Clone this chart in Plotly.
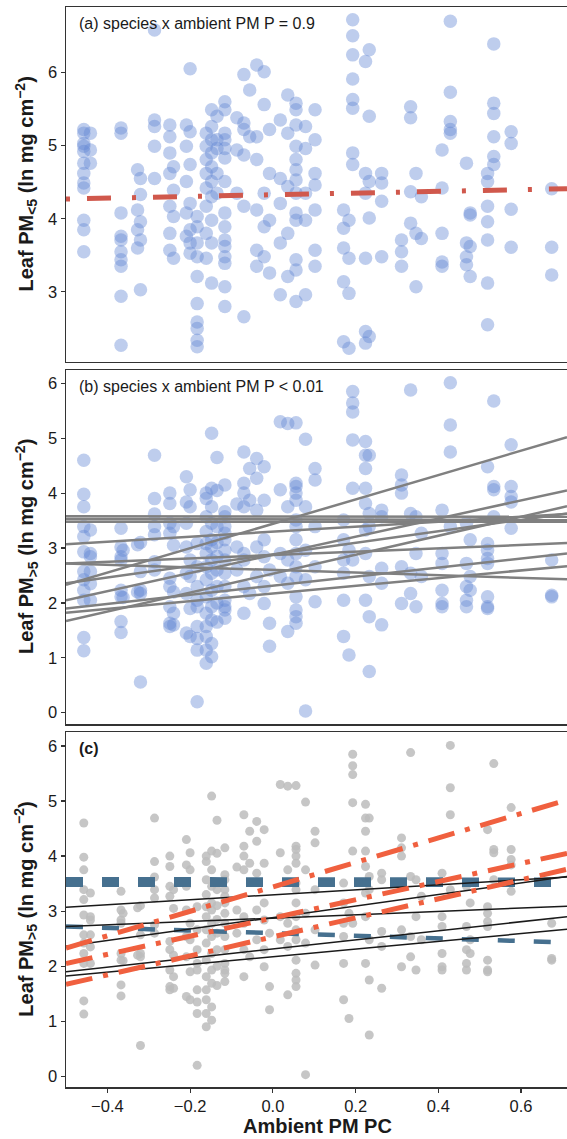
import plotly.graph_objects as go

# ---------------- data ----------------
# x limits of the model prediction lines (ambient PM PC)
x_limits = [-0.5, 0.711]

# Panel (a): Leaf PM<5
lt5_x = ([-0.457]*12 + [-0.441]*3 + [-0.367]*10 + [-0.327]*4 + [-0.320]*5 + [-0.286]*5 +
         [-0.249]*7 + [-0.240]*4 + [-0.209]*5 + [-0.200]*7 + [-0.183]*10 +
         [-0.161]*8 + [-0.148]*10 + [-0.135]*5 + [-0.116]*15 +
         [-0.087]*3 + [-0.070]*6 + [-0.056]*2 + [-0.039]*6 + [-0.021]*5 + [-0.008]*4 +
         [0.018]*5 + [0.036]*5 + [0.056]*13 + [0.079]*5 + [0.102]*7 +
         [0.171]*5 + [0.184]*4 + [0.193]*8 + [0.224]*6 + [0.233]*5 + [0.263]*4 + [0.311]*3 +
         [0.333]*4 + [0.346]*3 + [0.359]*2 + [0.409]*5 + [0.429]*5 + [0.468]*4 + [0.477]*4 +
         [0.519]*7 + [0.534]*6 + [0.576]*4 + [0.674]*3)
lt5_y = [5.22, 5.17, 5.03, 4.99, 4.92, 4.76, 4.62, 4.49, 4.42, 3.98, 3.85, 3.55,
         5.17, 4.94, 4.76,
         5.24, 5.17, 4.08, 3.76, 3.71, 3.55, 3.44, 3.35, 2.94, 2.27,
         4.67, 4.12, 3.85, 3.60,
         4.55, 4.33, 3.96, 3.71, 3.03,
         6.58, 5.35, 5.26, 4.99, 4.55,
         5.28, 5.12, 4.90, 4.62, 4.17, 3.80, 3.57,
         4.71, 4.39, 4.03, 3.46,
         5.28, 4.99, 4.51, 4.08, 3.76,
         6.05, 5.19, 4.74, 4.21, 3.85, 3.67, 3.53,
         4.03, 3.89, 3.67, 3.48, 3.21, 2.84, 2.59, 2.50, 2.34, 2.25,
         5.17, 4.99, 4.81, 4.62, 4.42, 4.17, 3.80, 3.46,
         5.49, 5.26, 5.08, 4.90, 4.71, 4.51, 4.30, 3.98, 3.67, 3.12,
         5.40, 5.08, 4.96, 4.62, 4.35,
         5.60, 5.49, 5.17, 5.08, 4.96, 4.83, 4.51, 4.08, 3.89, 3.71, 3.62, 3.48, 3.39, 3.07, 2.80,
         5.38, 4.94, 4.35,
         5.97, 5.31, 5.22, 4.87, 4.17, 2.66,
         5.76, 5.12,
         6.10, 5.12, 4.81, 4.12, 3.57, 3.35,
         6.01, 5.56, 4.35, 3.89, 3.48,
         5.22, 4.62, 3.98, 3.26,
         5.35, 4.55, 4.21, 3.67, 2.96,
         5.69, 5.17, 4.44, 3.80, 3.21,
         5.58, 5.49, 5.28, 4.99, 4.81, 4.67, 4.53, 4.35, 4.08, 3.98, 3.44, 3.30, 2.87,
         5.26, 4.96, 4.35, 3.98, 2.96,
         5.49, 5.08, 4.62, 4.46, 4.12, 3.57, 3.35,
         4.12, 3.87, 3.60, 3.14, 2.32,
         3.98, 3.46, 2.98, 2.23,
         6.72, 6.50, 6.24, 5.91, 5.63, 5.51, 4.90, 4.74,
         6.15, 4.62, 4.35, 3.46, 2.46, 2.30,
         6.31, 5.40, 4.51, 4.01, 2.39,
         4.62, 4.49, 4.24, 3.48,
         3.71, 3.55, 3.35,
         5.53, 5.38, 4.37, 3.94,
         4.62, 3.80, 3.07,
         4.30, 3.73,
         4.94, 4.42, 3.80, 3.41, 3.35,
         6.70, 5.73, 5.33, 5.22, 5.17,
         4.76, 3.67, 3.48, 3.37,
         4.08, 4.05, 3.62, 3.21,
         4.62, 4.51, 4.17, 3.96, 3.71, 3.12, 2.55,
         6.39, 5.58, 5.44, 5.12, 4.85, 4.74,
         5.19, 5.03, 4.13, 3.61,
         4.41, 3.61, 3.23]

# Panel (a) overall fit (no interaction): value at x_limits
lt5_fit = [4.27, 4.41]

# Panels (b) and (c): Leaf PM>5
gt5_x = ([-0.457]*12 + [-0.441]*6 + [-0.367]*8 + [-0.362]*2 + [-0.320]*5 + [-0.327]*2 +
         [-0.286]*7 + [-0.249]*9 + [-0.240]*5 + [-0.209]*7 + [-0.200]*6 + [-0.183]*9 +
         [-0.161]*14 + [-0.148]*13 + [-0.135]*9 + [-0.116]*14 +
         [-0.087]*3 + [-0.070]*8 + [-0.056]*3 + [-0.039]*5 + [-0.021]*6 + [-0.008]*3 +
         [0.018]*4 + [0.036]*5 + [0.056]*15 + [0.079]*5 + [0.102]*5 +
         [0.171]*6 + [0.184]*2 + [0.193]*6 + [0.224]*8 + [0.233]*6 + [0.263]*5 + [0.311]*5 +
         [0.333]*4 + [0.346]*3 + [0.359]*2 + [0.409]*6 + [0.429]*4 + [0.468]*5 + [0.477]*3 +
         [0.519]*8 + [0.534]*4 + [0.576]*5 + [0.674]*3)
gt5_y = [4.60, 3.98, 3.75, 3.39, 3.21, 2.93, 2.57, 2.42, 2.23, 2.05, 1.37, 1.13,
         3.33, 2.90, 2.84, 2.57, 2.35, 2.05,
         3.36, 3.02, 2.84, 2.78, 2.23, 2.11, 1.66, 1.46,
         2.96, 2.10,
         3.10, 2.57, 2.23, 2.17, 0.56,
         3.06, 2.20,
         4.69, 3.90, 3.62, 3.39, 3.24, 2.75, 2.60,
         4.00, 3.81, 3.45, 3.27, 2.45, 2.30, 1.93, 1.63, 1.57,
         3.39, 3.05, 2.20, 1.81, 1.60,
         4.30, 3.84, 3.45, 3.02, 2.54, 2.17, 1.45,
         4.06, 3.75, 2.78, 2.48, 1.90, 1.39,
         3.08, 2.66, 2.30, 2.05, 1.93, 1.57, 1.35, 1.14, 0.20,
         4.00, 3.90, 3.57, 3.30, 3.08, 2.90, 2.66, 2.42, 2.11, 1.81, 1.57, 1.39, 1.14, 0.90,
         5.09, 4.09, 3.75, 3.45, 3.15, 3.02, 2.78, 2.54, 2.23, 1.93, 1.69, 1.26, 1.02,
         4.65, 4.05, 3.39, 3.10, 2.85, 2.60, 2.30, 2.00, 1.65,
         4.15, 3.66, 3.57, 3.39, 3.27, 3.15, 2.96, 2.78, 2.54, 2.30, 2.05, 1.93, 1.87, 1.72,
         3.80, 3.02, 2.60,
         4.75, 4.18, 4.00, 3.75, 2.90, 2.78, 2.30, 1.81,
         4.45, 3.87, 2.17,
         4.63, 4.27, 3.69, 3.02, 2.48,
         4.48, 3.87, 3.15, 2.84, 2.30, 1.99,
         2.60, 1.63, 1.21,
         5.30, 4.06, 2.90, 2.48,
         5.27, 3.75, 2.78, 2.36, 1.48,
         5.28, 4.18, 4.12, 4.00, 3.87, 3.51, 3.39, 3.15, 2.90, 2.66, 2.48, 2.11, 1.87, 1.75, 1.63,
         4.98, 3.75, 2.96, 2.42, 0.03,
         4.45, 4.24, 3.39, 2.66, 2.02,
         3.51, 3.15, 2.78, 2.54, 2.05, 1.39,
         2.96, 1.05,
         5.85, 5.64, 5.48, 4.97, 4.09, 2.78,
         4.94, 4.69, 4.45, 4.09, 3.81, 3.33, 2.90, 2.05,
         4.69, 3.63, 3.39, 2.48, 1.75, 0.75,
         3.69, 3.57, 2.63, 2.36, 1.60,
         4.33, 4.15, 4.00, 2.66, 1.99,
         5.88, 3.63, 2.54, 2.17,
         3.57, 2.90, 1.93,
         3.27, 2.48,
         3.69, 2.90, 2.72, 2.23, 1.99, 1.93,
         6.01, 5.24, 4.75, 3.39,
         3.45, 2.72, 2.30, 2.05, 1.93,
         3.15, 2.48, 2.23,
         4.48, 3.08, 2.96, 2.81, 2.72, 2.11, 1.93, 1.90,
         5.68, 4.12, 4.06, 3.57,
         4.88, 4.12, 3.94, 3.84, 3.36,
         2.78, 2.14, 2.11]

# species-specific fits: value at x_limits[0] and x_limits[1], and response group
species_start = [3.58, 3.53, 3.48, 2.72, 2.33, 2.05, 1.67, 3.07, 2.72, 2.36, 1.90, 1.82]
species_end = [3.57, 3.51, 3.48, 2.43, 5.02, 4.05, 3.76, 3.62, 3.09, 3.63, 2.90, 2.67]
species_group = ["none", "none", "none", "none", "pos", "pos", "pos",
                 "ns", "ns", "ns", "ns", "ns"]

# ---------------- layout geometry ----------------
W, H = 567, 1139
PLOT_L, PLOT_T, PLOT_B = 66, 7, 1087
ph = PLOT_B - PLOT_T
pw = W - PLOT_L


def dom(top_px, bot_px):
    return [(PLOT_B - bot_px) / ph, (PLOT_B - top_px) / ph]


FONT = "Liberation Sans, Arial, sans-serif"
AX_COL = "#333333"
TXT_COL = "#1a1a1a"
TICK_SIZE = 16.5

fig = go.Figure()

blue_pt = dict(size=13.5, color="rgba(100,136,212,0.42)", line=dict(width=0))
grey_pt = dict(size=9, color="rgba(188,188,188,0.85)", line=dict(width=0))

# panel a
fig.add_trace(go.Scatter(x=lt5_x, y=lt5_y, mode="markers", marker=blue_pt,
                         xaxis="x", yaxis="y", showlegend=False))
fig.add_trace(go.Scatter(x=x_limits, y=lt5_fit, mode="lines",
                         line=dict(color="#d0584c", width=5, dash="4px,17px,24px,21px"),
                         xaxis="x", yaxis="y", showlegend=False))

# panel b
fig.add_trace(go.Scatter(x=gt5_x, y=gt5_y, mode="markers", marker=blue_pt,
                         xaxis="x2", yaxis="y2", showlegend=False))
for s, e in zip(species_start, species_end):
    fig.add_trace(go.Scatter(x=x_limits, y=[s, e], mode="lines",
                             line=dict(color="#808080", width=2.5),
                             xaxis="x2", yaxis="y2", showlegend=False))

# panel c
fig.add_trace(go.Scatter(x=gt5_x, y=gt5_y, mode="markers", marker=grey_pt,
                         xaxis="x3", yaxis="y3", showlegend=False))
styles = {
    "ns": dict(color="#1a1a1a", width=1.5),
    "none": dict(color="#46708f", width=4.5, dash="17px,19px"),
    "pos": dict(color="#f0603f", width=5, dash="27px,11px,5px,11px"),
}
for g in ["none", "ns", "pos"]:
    for s, e, gg in zip(species_start, species_end, species_group):
        if gg == g:
            fig.add_trace(go.Scatter(x=x_limits, y=[s, e], mode="lines", line=styles[g],
                                     xaxis="x3", yaxis="y3", showlegend=False))

xcommon = dict(range=[-0.5, 0.711], showline=True, linecolor=AX_COL, linewidth=1.5,
               mirror=True, showgrid=False, zeroline=False, domain=[0, 1])
ycommon = dict(showline=True, linecolor=AX_COL, linewidth=1.5, mirror=False,
               showgrid=False, zeroline=False, ticks="outside", ticklen=4,
               tickcolor=AX_COL, tickwidth=1.2,
               tickfont=dict(family=FONT, size=TICK_SIZE, color=TXT_COL))

fig.update_layout(
    width=W, height=H,
    margin=dict(l=PLOT_L, r=0, t=PLOT_T, b=H - PLOT_B),
    paper_bgcolor="white", plot_bgcolor="white",
    hovermode=False,
    xaxis=dict(**xcommon, anchor="y", showticklabels=False, ticks=""),
    xaxis2=dict(**xcommon, anchor="y2", showticklabels=False, ticks=""),
    xaxis3=dict(**xcommon, anchor="y3", ticks="outside", ticklen=4, tickcolor=AX_COL,
                tickwidth=1.2, tickvals=[-0.4, -0.2, 0.0, 0.2, 0.4, 0.6],
                ticktext=["\u22120.4", "\u22120.2", "0.0", "0.2", "0.4", "0.6"],
                tickfont=dict(family=FONT, size=TICK_SIZE, color=TXT_COL)),
    yaxis=dict(**ycommon, anchor="x", domain=dom(7.3, 361.7), range=[2.046, 6.89],
               tickvals=[3, 4, 5, 6]),
    yaxis2=dict(**ycommon, anchor="x2", domain=dom(370, 724), range=[-0.206, 6.243],
                tickvals=[0, 1, 2, 3, 4, 5, 6]),
    yaxis3=dict(**ycommon, anchor="x3", domain=dom(732.3, 1087), range=[-0.194, 6.248],
                tickvals=[0, 1, 2, 3, 4, 5, 6]),
)

labels = [("y", "(a) species x ambient PM P = 0.9"),
          ("y2", "(b) species x ambient PM P &lt; 0.01"),
          ("y3", "<b>(c)</b>")]
for ya, txt in labels:
    fig.add_annotation(x=11 / pw, y=1 - 16.5 / 354, xref="x domain", yref=ya + " domain",
                       text=txt, showarrow=False, xanchor="left", yanchor="middle",
                       font=dict(family=FONT, size=16, color=TXT_COL))

ytitles = [("y", "Leaf PM<sub>&lt;5</sub> (ln mg cm<sup>\u22122</sup>)"),
           ("y2", "Leaf PM<sub>&gt;5</sub> (ln mg cm<sup>\u22122</sup>)"),
           ("y3", "Leaf PM<sub>&gt;5</sub> (ln mg cm<sup>\u22122</sup>)")]
for ya, txt in ytitles:
    fig.add_annotation(x=(26 - PLOT_L) / pw, y=0.5, xref="paper", yref=ya + " domain",
                       text="<b>" + txt + "</b>", showarrow=False, textangle=-90,
                       xanchor="center", yanchor="middle",
                       font=dict(family=FONT, size=20, color=TXT_COL))

fig.add_annotation(x=(317 - PLOT_L) / pw, y=-(H - 1 - PLOT_B) / ph, xref="paper", yref="paper",
                   text="<b>Ambient PM PC</b>", showarrow=False, xanchor="center",
                   yanchor="bottom", borderpad=0,
                   font=dict(family=FONT, size=20, color=TXT_COL))

# remove the browser's default page margin so the figure sits at the window origin
fig.write_html("out.html", config={"displayModeBar": False, "staticPlot": True},
               post_script="document.body.style.margin='0px';")
